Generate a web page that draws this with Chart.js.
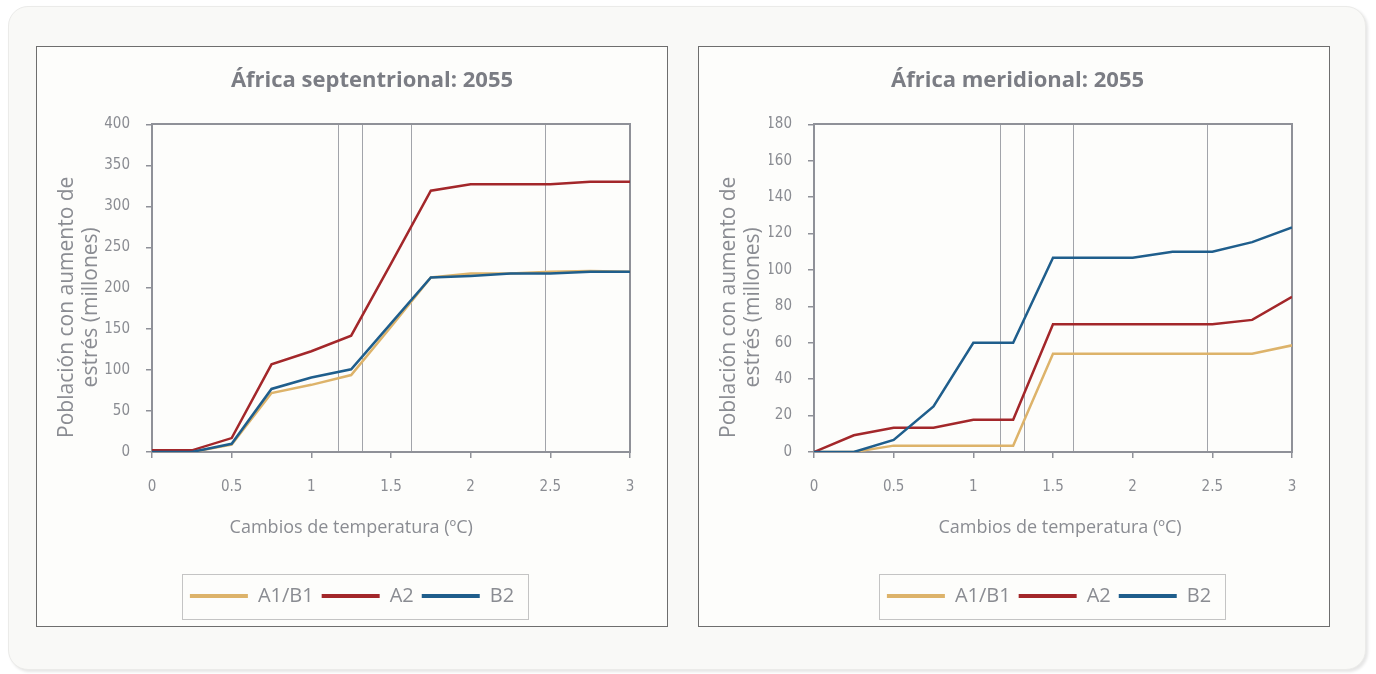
<!DOCTYPE html>
<html>
<head>
<meta charset="utf-8">
<script src="https://cdn.jsdelivr.net/npm/chart.js@4.4.0/dist/chart.umd.min.js"></script>
<style>
  html, body { margin: 0; padding: 0; background: #ffffff; width: 1376px; height: 674px; overflow: hidden; }
  .card { position: absolute; left: 8px; top: 6px; width: 1358px; height: 664px; box-sizing: border-box;
          background: #f9f9f7; border: 1px solid #ebebe9; border-radius: 20px; box-shadow: 2px 2px 3px rgba(0,0,0,0.10); }
  .panel { position: absolute; top: 46px; width: 632px; height: 581px; box-sizing: border-box;
           border: 1px solid #6e6e6e; background: #fdfdfb; }
  #p1 { left: 36px; }
  #p2 { left: 698px; }
  canvas { display: block; }
</style>
</head>
<body>
<div class="card"></div>
<div class="panel" id="p1"><canvas id="c1" width="630" height="579"></canvas></div>
<div class="panel" id="p2"><canvas id="c2" width="630" height="579"></canvas></div>
<script>
// Temperature change steps (ºC) shared by every series
const temps = [0, 0.25, 0.5, 0.75, 1, 1.25, 1.5, 1.75, 2, 2.25, 2.5, 2.75, 3];

// Northern Africa, 2055 (millions of people)
const northA1B1 = [0, 0, 9, 72, 82, 94, 153, 213, 218, 218, 220, 221, 220];
const northA2   = [2, 2, 17, 107, 123, 142, 230, 319, 327, 327, 327, 330, 330];
const northB2   = [0, 0, 10, 77, 91, 101, 157, 213, 215, 218, 218, 220, 220];

// Southern Africa, 2055 (millions of people)
const southA1B1 = [0, 0, 3.5, 3.5, 3.5, 3.5, 54, 54, 54, 54, 54, 54, 58.6];
const southA2   = [0, 9.2, 13.3, 13.3, 17.7, 17.7, 70.2, 70.2, 70.2, 70.2, 70.2, 72.6, 85.3];
const southB2   = [0, 0, 6.6, 25, 60, 60, 106.7, 106.7, 106.7, 110, 110, 115.3, 123.4];

// Reference temperatures marked with vertical lines
const markers = [1.17, 1.32, 1.63, 2.47];

const seriesNames = ['A1/B1', 'A2', 'B2'];
const seriesColors = ['#ddb36a', '#a3272a', '#1f5e8c'];

const yTitle = ['Población con aumento de', 'estrés (millones)'];
const xTitle = 'Cambios de temperatura (ºC)';

const narrow = "'Liberation Sans Narrow', 'DejaVu Sans Condensed', 'Open Sans', sans-serif";
const sans = "'Open Sans', 'Noto Sans', sans-serif";
const axisGray = '#8f9198';
const textGray = '#8a8c92';

// Pads a label with spaces before/after so it sits off the centre line
const shift = (text, before, after) => ' '.repeat(before) + text + ' '.repeat(after);

const legendFrame = {
  id: 'legendFrame',
  afterDraw(chart) {
    const lg = chart.legend;
    if (!lg || !lg.legendHitBoxes.length) return;
    const boxes = lg.legendHitBoxes;
    const left = Math.min(...boxes.map(b => b.left)) - 8;
    const right = Math.max(...boxes.map(b => b.left + b.width)) + 14;
    const cy = boxes[0].top + boxes[0].height / 2;
    const ctx = chart.ctx;
    ctx.save();
    ctx.strokeStyle = '#c4c4c4';
    ctx.lineWidth = 1;
    ctx.strokeRect(Math.round(left) + 0.5, Math.round(cy - 22.5) + 0.5, Math.round(right - left), 45);
    ctx.restore();
  }
};

// inset: left layout padding, which moves the title and legend centre to the right
function makeChart(id, title, series, yMax, yStep, cfg) {
  const datasets = series.map((vals, i) => ({
    label: seriesNames[i],
    data: temps.map((t, k) => ({ x: t, y: vals[k] })),
    borderColor: seriesColors[i],
    backgroundColor: seriesColors[i],
    borderWidth: 2.5,
    pointRadius: 0,
    tension: 0,
    order: 3 - i
  }));
  const inset = cfg.inset;

  return new Chart(document.getElementById(id), {
    type: 'line',
    data: { datasets },
    plugins: [legendFrame],
    options: {
      responsive: false,
      animation: false,
      layout: { padding: { left: inset, right: 0, top: 0, bottom: 10 } },
      plugins: {
        tooltip: { enabled: false },
        title: {
          display: true, text: shift(title, cfg.title[0], cfg.title[1]), color: '#7b7d84',
          font: { family: sans, size: 22, weight: 'bold' },
          padding: { top: 21, bottom: 30 }
        },
        legend: {
          position: 'bottom',
          labels: {
            boxWidth: 58, boxHeight: 4, padding: 8, color: textGray,
            font: { family: sans, size: 20 },
            generateLabels: chart => chart.data.datasets.map((d, i) => ({
              text: d.label, fillStyle: d.borderColor, strokeStyle: d.borderColor,
              fontColor: textGray, lineWidth: 0, hidden: false, datasetIndex: i
            })),
            sort: (a, b) => a.datasetIndex - b.datasetIndex
          }
        }
      },
      scales: {
        x: {
          type: 'linear', position: 'bottom', min: 0, max: 3,
          ticks: { stepSize: 0.5, padding: 20, color: textGray, font: { family: narrow, size: 15 },
                   callback: v => String(v) },
          grid: { display: true, drawOnChartArea: false, drawTicks: true, tickLength: 6, color: axisGray, lineWidth: 1.5 },
          border: { display: true, color: axisGray, width: 2 },
          title: { display: true, text: shift(xTitle, cfg.xTitle[0], cfg.xTitle[1]), color: textGray,
                   font: { family: sans, size: 18 }, padding: { top: 0, bottom: 39 } },
          afterFit: s => { s.height = 126; }
        },
        xm: {
          type: 'linear', position: 'top', min: 0, max: 3,
          afterBuildTicks: s => { s.ticks = markers.map(v => ({ value: v })); },
          ticks: { display: false },
          grid: { display: true, drawTicks: false, color: '#a2a4aa', lineWidth: 1 },
          border: { display: true, color: axisGray, width: 2 },
          afterFit: s => { s.height = 0; }
        },
        y: {
          min: 0, max: yMax,
          ticks: { stepSize: yStep, padding: 16, color: textGray, font: { family: narrow, size: 15 } },
          grid: { display: true, drawOnChartArea: false, drawTicks: true, tickLength: 6, color: axisGray, lineWidth: 1.5 },
          border: { display: true, color: axisGray, width: 2 },
          title: { display: true, text: yTitle.map(t => shift(t, 0, 7)), color: textGray,
                   font: { family: sans, size: 21, lineHeight: 1.14 }, padding: { top: 18 - inset, bottom: 0 } },
          afterFit: s => { s.width = 115 - inset; }
        },
        yr: {
          position: 'right', min: 0, max: 1,
          ticks: { display: false },
          grid: { display: false },
          border: { display: true, color: axisGray, width: 2 },
          afterFit: s => { s.width = 37; }
        }
      }
    }
  });
}

makeChart('c1', 'África septentrional: 2055', [northA1B1, northA2, northB2], 400, 50,
          { inset: 0, title: [7, 0], xTitle: [0, 17] });
makeChart('c2', 'África meridional: 2055', [southA1B1, southA2, southB2], 180, 20,
          { inset: 70, title: [0, 11], xTitle: [3, 0] });
</script>
</body>
</html>
